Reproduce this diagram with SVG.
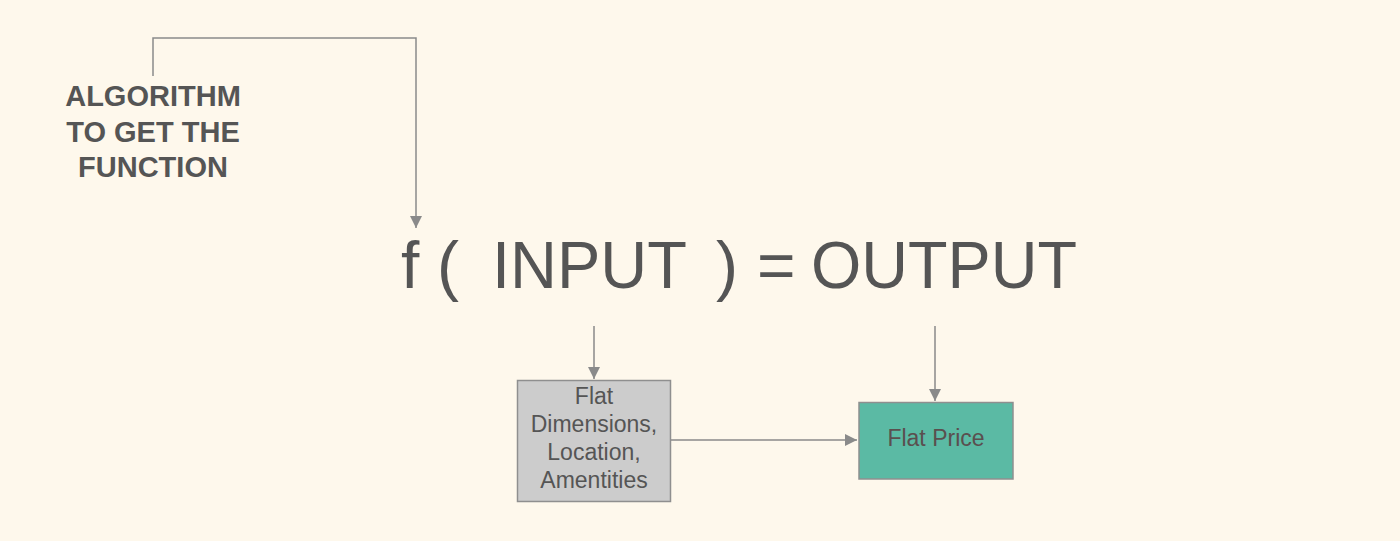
<svg xmlns="http://www.w3.org/2000/svg" width="1400" height="541" viewBox="0 0 1400 541">
<defs>
<marker id="arrL" viewBox="0 0 10 10" refX="10" refY="5" markerWidth="16" markerHeight="12" markerUnits="userSpaceOnUse" orient="auto">
<path d="M0,0 L10,5 L0,10 z" fill="#8a8a8a"/>
</marker>
</defs>
<style>
.t{font-family:"Liberation Sans",Arial,sans-serif;fill:#555555}
.b{font-weight:bold;font-size:29px}
.big{font-size:66px}
.n{font-size:23px;text-anchor:middle}
.c{fill:none;stroke:#8a8a8a;stroke-width:1.5}
</style>
<rect width="1400" height="541" fill="#fef8ec"/>
<g id="connectors">
<path class="c" d="M153,76 V38 H416 V228" marker-end="url(#arrL)"/>
<path class="c" d="M594,326 V379" marker-end="url(#arrL)"/>
<path class="c" d="M935,326 V401" marker-end="url(#arrL)"/>
<path class="c" d="M671,440 H857" marker-end="url(#arrL)"/>
</g>
<g id="algorithm">
<text class="t b" text-anchor="middle" x="153" y="106">ALGORITHM</text>
<text class="t b" text-anchor="middle" x="153" y="142">TO GET THE</text>
<text class="t b" text-anchor="middle" x="153" y="177">FUNCTION</text>
</g>
<g id="equation">
<text class="t big" y="288"><tspan x="401">f</tspan><tspan x="437">(</tspan><tspan x="492" textLength="195" lengthAdjust="spacingAndGlyphs">INPUT</tspan><tspan x="716">)</tspan><tspan x="757">=</tspan><tspan x="811" textLength="266" lengthAdjust="spacingAndGlyphs">OUTPUT</tspan></text>
</g>
<g id="input">
<rect x="517.5" y="380.5" width="153" height="121" fill="#cccccc" stroke="#8f8f8f" stroke-width="1.5"/>
<text class="t n" x="594" y="404">Flat</text>
<text class="t n" x="594" y="432">Dimensions,</text>
<text class="t n" x="594" y="460">Location,</text>
<text class="t n" x="594" y="488">Amentities</text>
</g>
<g id="output">
<rect x="859" y="402.5" width="154" height="76.5" fill="#5bbaa4" stroke="#8f8f8f" stroke-width="1.5"/>
<text class="t n" x="936" y="446" style="fill:#5a4f4f">Flat Price</text>
</g>
</svg>
